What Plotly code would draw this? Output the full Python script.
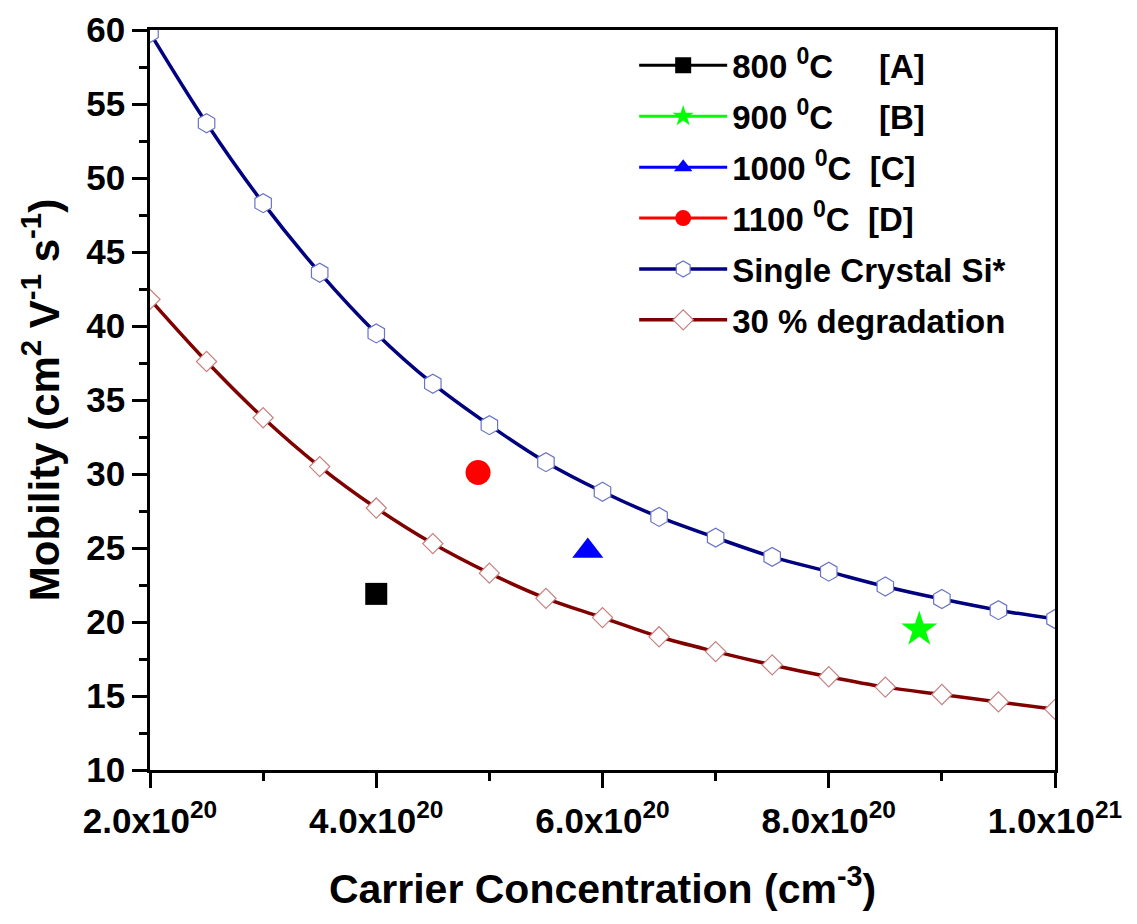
import plotly.graph_objects as go

# Carrier concentration grid (cm^-3) for the reference curves
concentration = [2.0e20, 2.5e20, 3.0e20, 3.5e20, 4.0e20, 4.5e20, 5.0e20, 5.5e20, 6.0e20,
                 6.5e20, 7.0e20, 7.5e20, 8.0e20, 8.5e20, 9.0e20, 9.5e20, 1.0e21]

# Mobility of single crystal Si (cm^2 V^-1 s^-1)
single_crystal = [59.8, 53.7, 48.3, 43.6, 39.5, 36.1, 33.3, 30.8, 28.8,
                  27.1, 25.7, 24.4, 23.4, 22.4, 21.55, 20.8, 20.2]

# Mobility after 30 % degradation
degraded = [41.8, 37.6, 33.8, 30.5, 27.7, 25.3, 23.3, 21.6, 20.3,
            19.0, 18.0, 17.1, 16.3, 15.6, 15.1, 14.6, 14.1]

# Annealed samples A-D
sample_names = ["800\u00a0<sup>0</sup>C\u00a0\u00a0\u00a0\u00a0\u00a0[A]",
                "900\u00a0<sup>0</sup>C\u00a0\u00a0\u00a0\u00a0\u00a0[B]",
                "1000\u00a0<sup>0</sup>C\u00a0\u00a0[C]",
                "1100\u00a0<sup>0</sup>C\u00a0\u00a0[D]"]
sample_conc = [4.0e20, 8.8e20, 5.87e20, 4.9e20]
sample_mobility = [21.9, 19.5, 24.8, 30.1]

# Axis ticks
x_tickvals = [2e20, 4e20, 6e20, 8e20, 1e21]
x_ticktext = ["2.0x10<sup>20</sup>", "4.0x10<sup>20</sup>", "6.0x10<sup>20</sup>",
              "8.0x10<sup>20</sup>", "1.0x10<sup>21</sup>"]

sample_styles = [
    dict(color="#000000", symbol="square", size=22),
    dict(color="#00ff00", symbol="star", size=27),
    dict(color="#0000ff", symbol="triangle-up", size=27),
    dict(color="#ff0000", symbol="circle", size=25),
]

FONT = "Liberation Sans"

fig = go.Figure()

for name, xv, yv, st in zip(sample_names, sample_conc, sample_mobility, sample_styles):
    fig.add_trace(go.Scatter(
        x=[xv], y=[yv], name=name, legendgroup=name, mode="lines+markers",
        line=dict(color=st["color"], width=3),
        marker=dict(symbol=st["symbol"], size=st["size"], color=st["color"],
                    line=dict(width=0)),
    ))

fig.add_trace(go.Scatter(
    x=concentration, y=single_crystal, name="Single Crystal Si*", legendgroup="si",
    mode="lines+markers", line=dict(color="#000080", width=3.5, shape="spline"),
    marker=dict(symbol="hexagon", size=19, color="white",
                line=dict(color="#6a74c4", width=1.2)),
))

fig.add_trace(go.Scatter(
    x=concentration, y=degraded, name="30 % degradation", legendgroup="deg",
    mode="lines+markers", line=dict(color="#800000", width=3.5, shape="spline"),
    marker=dict(symbol="diamond", size=15.5, color="white",
                line=dict(color="#c88080", width=1.2)),
))

axis_common = dict(
    showline=True, linecolor="black", linewidth=2.5, mirror=True,
    ticks="outside", ticklen=15, tickwidth=2.5, tickcolor="black",
    showgrid=False, zeroline=False, automargin=False,
    tickfont=dict(size=35, color="black", family=FONT, weight="bold"),
    minor=dict(ticks="outside", ticklen=8, tickwidth=2.5, tickcolor="black", showgrid=False),
)

fig.update_xaxes(
    range=[2e20, 1e21], tickmode="array", tickvals=x_tickvals, ticktext=x_ticktext,
    minor_tickvals=[3e20, 5e20, 7e20, 9e20], minor_tickmode="array",
    ticklabelstandoff=3,
    title=dict(text="Carrier Concentration (cm<sup>-3</sup>)", standoff=36,
               font=dict(size=41, color="black", family=FONT, weight="bold")),
    **axis_common,
)
fig.update_yaxes(
    range=[10, 60], dtick=5, minor_dtick=2.5,
    title=dict(text="Mobility (cm<sup>2</sup> V<sup>-1</sup> s<sup>-1</sup>)", standoff=14,
               font=dict(size=42, color="black", family=FONT, weight="bold")),
    **axis_common,
)

fig.update_layout(
    width=1137, height=924,
    margin=dict(l=150, r=82, t=30, b=154),
    paper_bgcolor="white", plot_bgcolor="white",
    font=dict(family=FONT, color="black", weight="bold"),
    showlegend=True,
    legend=dict(
        x=0.535, y=0.99, xanchor="left", yanchor="top",
        bgcolor="rgba(0,0,0,0)", borderwidth=0,
        font=dict(size=33, color="black", family=FONT, weight="bold"),
        itemwidth=88, tracegroupgap=5,
    ),
)

fig.write_html("out.html")
